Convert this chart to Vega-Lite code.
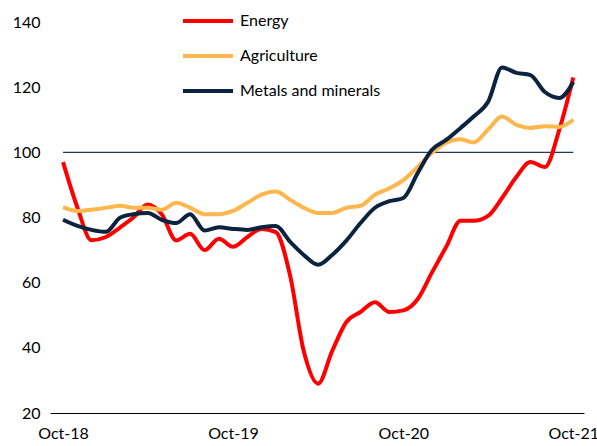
{
  "$schema": "https://vega.github.io/schema/vega-lite/v6.json",
  "width": 534,
  "height": 391,
  "autosize": {"type": "none"},
  "padding": {"left": 50, "top": 22, "right": 13, "bottom": 33},
  "config": {
    "view": {"stroke": null},
    "font": "Lato",
    "axis": {"labelFont": "Lato", "labelFontSize": 16, "labelColor": "#000000", "grid": false, "ticks": false, "title": null}
  },
  "datasets": {
    "series": [
      {"date": "2018-10-01T00:00:00", "series": "Energy", "value": 97},
      {"date": "2018-11-01T00:00:00", "series": "Energy", "value": 83},
      {"date": "2018-12-01T00:00:00", "series": "Energy", "value": 73},
      {"date": "2019-01-01T00:00:00", "series": "Energy", "value": 74},
      {"date": "2019-02-01T00:00:00", "series": "Energy", "value": 77},
      {"date": "2019-03-01T00:00:00", "series": "Energy", "value": 80},
      {"date": "2019-04-01T00:00:00", "series": "Energy", "value": 84},
      {"date": "2019-05-01T00:00:00", "series": "Energy", "value": 81},
      {"date": "2019-06-01T00:00:00", "series": "Energy", "value": 73},
      {"date": "2019-07-01T00:00:00", "series": "Energy", "value": 75},
      {"date": "2019-08-01T00:00:00", "series": "Energy", "value": 70},
      {"date": "2019-09-01T00:00:00", "series": "Energy", "value": 73.5},
      {"date": "2019-10-01T00:00:00", "series": "Energy", "value": 71},
      {"date": "2019-11-01T00:00:00", "series": "Energy", "value": 74},
      {"date": "2019-12-01T00:00:00", "series": "Energy", "value": 76.5},
      {"date": "2020-01-01T00:00:00", "series": "Energy", "value": 75.5},
      {"date": "2020-02-01T00:00:00", "series": "Energy", "value": 62},
      {"date": "2020-03-01T00:00:00", "series": "Energy", "value": 39},
      {"date": "2020-04-01T00:00:00", "series": "Energy", "value": 29},
      {"date": "2020-05-01T00:00:00", "series": "Energy", "value": 39},
      {"date": "2020-06-01T00:00:00", "series": "Energy", "value": 48},
      {"date": "2020-07-01T00:00:00", "series": "Energy", "value": 51},
      {"date": "2020-08-01T00:00:00", "series": "Energy", "value": 54},
      {"date": "2020-09-01T00:00:00", "series": "Energy", "value": 51},
      {"date": "2020-10-01T00:00:00", "series": "Energy", "value": 51.5},
      {"date": "2020-11-01T00:00:00", "series": "Energy", "value": 55},
      {"date": "2020-12-01T00:00:00", "series": "Energy", "value": 63},
      {"date": "2021-01-01T00:00:00", "series": "Energy", "value": 71},
      {"date": "2021-02-01T00:00:00", "series": "Energy", "value": 79},
      {"date": "2021-03-01T00:00:00", "series": "Energy", "value": 79},
      {"date": "2021-04-01T00:00:00", "series": "Energy", "value": 80.5},
      {"date": "2021-05-01T00:00:00", "series": "Energy", "value": 86},
      {"date": "2021-06-01T00:00:00", "series": "Energy", "value": 92.5},
      {"date": "2021-07-01T00:00:00", "series": "Energy", "value": 97},
      {"date": "2021-08-01T00:00:00", "series": "Energy", "value": 95.5},
      {"date": "2021-09-01T00:00:00", "series": "Energy", "value": 107},
      {"date": "2021-10-01T00:00:00", "series": "Energy", "value": 123},
      {"date": "2018-10-01T00:00:00", "series": "Agriculture", "value": 83.2},
      {"date": "2018-11-01T00:00:00", "series": "Agriculture", "value": 82},
      {"date": "2018-12-01T00:00:00", "series": "Agriculture", "value": 82.4},
      {"date": "2019-01-01T00:00:00", "series": "Agriculture", "value": 83},
      {"date": "2019-02-01T00:00:00", "series": "Agriculture", "value": 83.6},
      {"date": "2019-03-01T00:00:00", "series": "Agriculture", "value": 83},
      {"date": "2019-04-01T00:00:00", "series": "Agriculture", "value": 83},
      {"date": "2019-05-01T00:00:00", "series": "Agriculture", "value": 82.4},
      {"date": "2019-06-01T00:00:00", "series": "Agriculture", "value": 84.5},
      {"date": "2019-07-01T00:00:00", "series": "Agriculture", "value": 83},
      {"date": "2019-08-01T00:00:00", "series": "Agriculture", "value": 81},
      {"date": "2019-09-01T00:00:00", "series": "Agriculture", "value": 81},
      {"date": "2019-10-01T00:00:00", "series": "Agriculture", "value": 82},
      {"date": "2019-11-01T00:00:00", "series": "Agriculture", "value": 84.5},
      {"date": "2019-12-01T00:00:00", "series": "Agriculture", "value": 87},
      {"date": "2020-01-01T00:00:00", "series": "Agriculture", "value": 88},
      {"date": "2020-02-01T00:00:00", "series": "Agriculture", "value": 85.4},
      {"date": "2020-03-01T00:00:00", "series": "Agriculture", "value": 83},
      {"date": "2020-04-01T00:00:00", "series": "Agriculture", "value": 81.4},
      {"date": "2020-05-01T00:00:00", "series": "Agriculture", "value": 81.4},
      {"date": "2020-06-01T00:00:00", "series": "Agriculture", "value": 83},
      {"date": "2020-07-01T00:00:00", "series": "Agriculture", "value": 83.6},
      {"date": "2020-08-01T00:00:00", "series": "Agriculture", "value": 87},
      {"date": "2020-09-01T00:00:00", "series": "Agriculture", "value": 89},
      {"date": "2020-10-01T00:00:00", "series": "Agriculture", "value": 91.5},
      {"date": "2020-11-01T00:00:00", "series": "Agriculture", "value": 95.5},
      {"date": "2020-12-01T00:00:00", "series": "Agriculture", "value": 99.8},
      {"date": "2021-01-01T00:00:00", "series": "Agriculture", "value": 103},
      {"date": "2021-02-01T00:00:00", "series": "Agriculture", "value": 104},
      {"date": "2021-03-01T00:00:00", "series": "Agriculture", "value": 103},
      {"date": "2021-04-01T00:00:00", "series": "Agriculture", "value": 107},
      {"date": "2021-05-01T00:00:00", "series": "Agriculture", "value": 111},
      {"date": "2021-06-01T00:00:00", "series": "Agriculture", "value": 108.4},
      {"date": "2021-07-01T00:00:00", "series": "Agriculture", "value": 107.5},
      {"date": "2021-08-01T00:00:00", "series": "Agriculture", "value": 108},
      {"date": "2021-09-01T00:00:00", "series": "Agriculture", "value": 107.8},
      {"date": "2021-10-01T00:00:00", "series": "Agriculture", "value": 110},
      {"date": "2018-10-01T00:00:00", "series": "Metals and minerals", "value": 79.3},
      {"date": "2018-11-01T00:00:00", "series": "Metals and minerals", "value": 77.4},
      {"date": "2018-12-01T00:00:00", "series": "Metals and minerals", "value": 76.2},
      {"date": "2019-01-01T00:00:00", "series": "Metals and minerals", "value": 75.6},
      {"date": "2019-02-01T00:00:00", "series": "Metals and minerals", "value": 80},
      {"date": "2019-03-01T00:00:00", "series": "Metals and minerals", "value": 81},
      {"date": "2019-04-01T00:00:00", "series": "Metals and minerals", "value": 81.4},
      {"date": "2019-05-01T00:00:00", "series": "Metals and minerals", "value": 79.3},
      {"date": "2019-06-01T00:00:00", "series": "Metals and minerals", "value": 78.3},
      {"date": "2019-07-01T00:00:00", "series": "Metals and minerals", "value": 81},
      {"date": "2019-08-01T00:00:00", "series": "Metals and minerals", "value": 76},
      {"date": "2019-09-01T00:00:00", "series": "Metals and minerals", "value": 77},
      {"date": "2019-10-01T00:00:00", "series": "Metals and minerals", "value": 76.5},
      {"date": "2019-11-01T00:00:00", "series": "Metals and minerals", "value": 76.2},
      {"date": "2019-12-01T00:00:00", "series": "Metals and minerals", "value": 77},
      {"date": "2020-01-01T00:00:00", "series": "Metals and minerals", "value": 77.4},
      {"date": "2020-02-01T00:00:00", "series": "Metals and minerals", "value": 72.5},
      {"date": "2020-03-01T00:00:00", "series": "Metals and minerals", "value": 68.5},
      {"date": "2020-04-01T00:00:00", "series": "Metals and minerals", "value": 65.5},
      {"date": "2020-05-01T00:00:00", "series": "Metals and minerals", "value": 68.5},
      {"date": "2020-06-01T00:00:00", "series": "Metals and minerals", "value": 73},
      {"date": "2020-07-01T00:00:00", "series": "Metals and minerals", "value": 78.3},
      {"date": "2020-08-01T00:00:00", "series": "Metals and minerals", "value": 83},
      {"date": "2020-09-01T00:00:00", "series": "Metals and minerals", "value": 85},
      {"date": "2020-10-01T00:00:00", "series": "Metals and minerals", "value": 86},
      {"date": "2020-11-01T00:00:00", "series": "Metals and minerals", "value": 93.7},
      {"date": "2020-12-01T00:00:00", "series": "Metals and minerals", "value": 100.7},
      {"date": "2021-01-01T00:00:00", "series": "Metals and minerals", "value": 103.8},
      {"date": "2021-02-01T00:00:00", "series": "Metals and minerals", "value": 107.5},
      {"date": "2021-03-01T00:00:00", "series": "Metals and minerals", "value": 111},
      {"date": "2021-04-01T00:00:00", "series": "Metals and minerals", "value": 115.5},
      {"date": "2021-05-01T00:00:00", "series": "Metals and minerals", "value": 126},
      {"date": "2021-06-01T00:00:00", "series": "Metals and minerals", "value": 124.4},
      {"date": "2021-07-01T00:00:00", "series": "Metals and minerals", "value": 123.7},
      {"date": "2021-08-01T00:00:00", "series": "Metals and minerals", "value": 118.5},
      {"date": "2021-09-01T00:00:00", "series": "Metals and minerals", "value": 116.7},
      {"date": "2021-10-01T00:00:00", "series": "Metals and minerals", "value": 121.6}
    ],
    "ref": [
      {"start": "2018-10-01T00:00:00", "end": "2021-10-01T00:00:00", "value": 100}
    ]
  },
  "layer": [
    {
      "data": {"name": "ref"},
      "mark": {"type": "rule", "color": "#1F3A5F", "strokeWidth": 1.2},
      "encoding": {
        "x": {"field": "start", "type": "temporal"},
        "x2": {"field": "end"},
        "y": {"field": "value", "type": "quantitative"}
      }
    },
    {
      "data": {"name": "series"},
      "mark": {"type": "line", "strokeWidth": 4, "interpolate": "monotone"},
      "encoding": {
        "x": {
          "field": "date",
          "type": "temporal",
          "scale": {"domain": [{"year": 2018, "month": "Sep", "date": 3}, {"year": 2021, "month": "Oct", "date": 24}]},
          "axis": {
            "values": [
              {"year": 2018, "month": "Oct", "date": 1},
              {"year": 2019, "month": "Oct", "date": 1},
              {"year": 2020, "month": "Oct", "date": 1},
              {"year": 2021, "month": "Oct", "date": 1}
            ],
            "format": "%b-%y",
            "domain": true,
            "domainColor": "#000000",
            "domainWidth": 1,
            "labelPadding": 12,
            "labelFlush": false,
            "labelOverlap": false
          }
        },
        "y": {
          "field": "value",
          "type": "quantitative",
          "scale": {"domain": [20, 140], "nice": false, "zero": false},
          "axis": {"values": [20, 40, 60, 80, 100, 120, 140], "domain": false, "labelPadding": 10}
        },
        "color": {
          "field": "series",
          "type": "nominal",
          "scale": {
            "domain": ["Energy", "Agriculture", "Metals and minerals"],
            "range": ["#FF0000", "#FFB74D", "#0C2340"]
          },
          "legend": {
            "title": null,
            "orient": "none",
            "legendX": 131,
            "legendY": -28,
            "padding": 0,
            "symbolType": "stroke",
            "symbolSize": 2500,
            "symbolStrokeWidth": 4,
            "labelFont": "Lato",
            "labelFontSize": 16,
            "labelColor": "#000000",
            "labelOffset": 5,
            "rowPadding": -1
          }
        }
      }
    }
  ]
}
